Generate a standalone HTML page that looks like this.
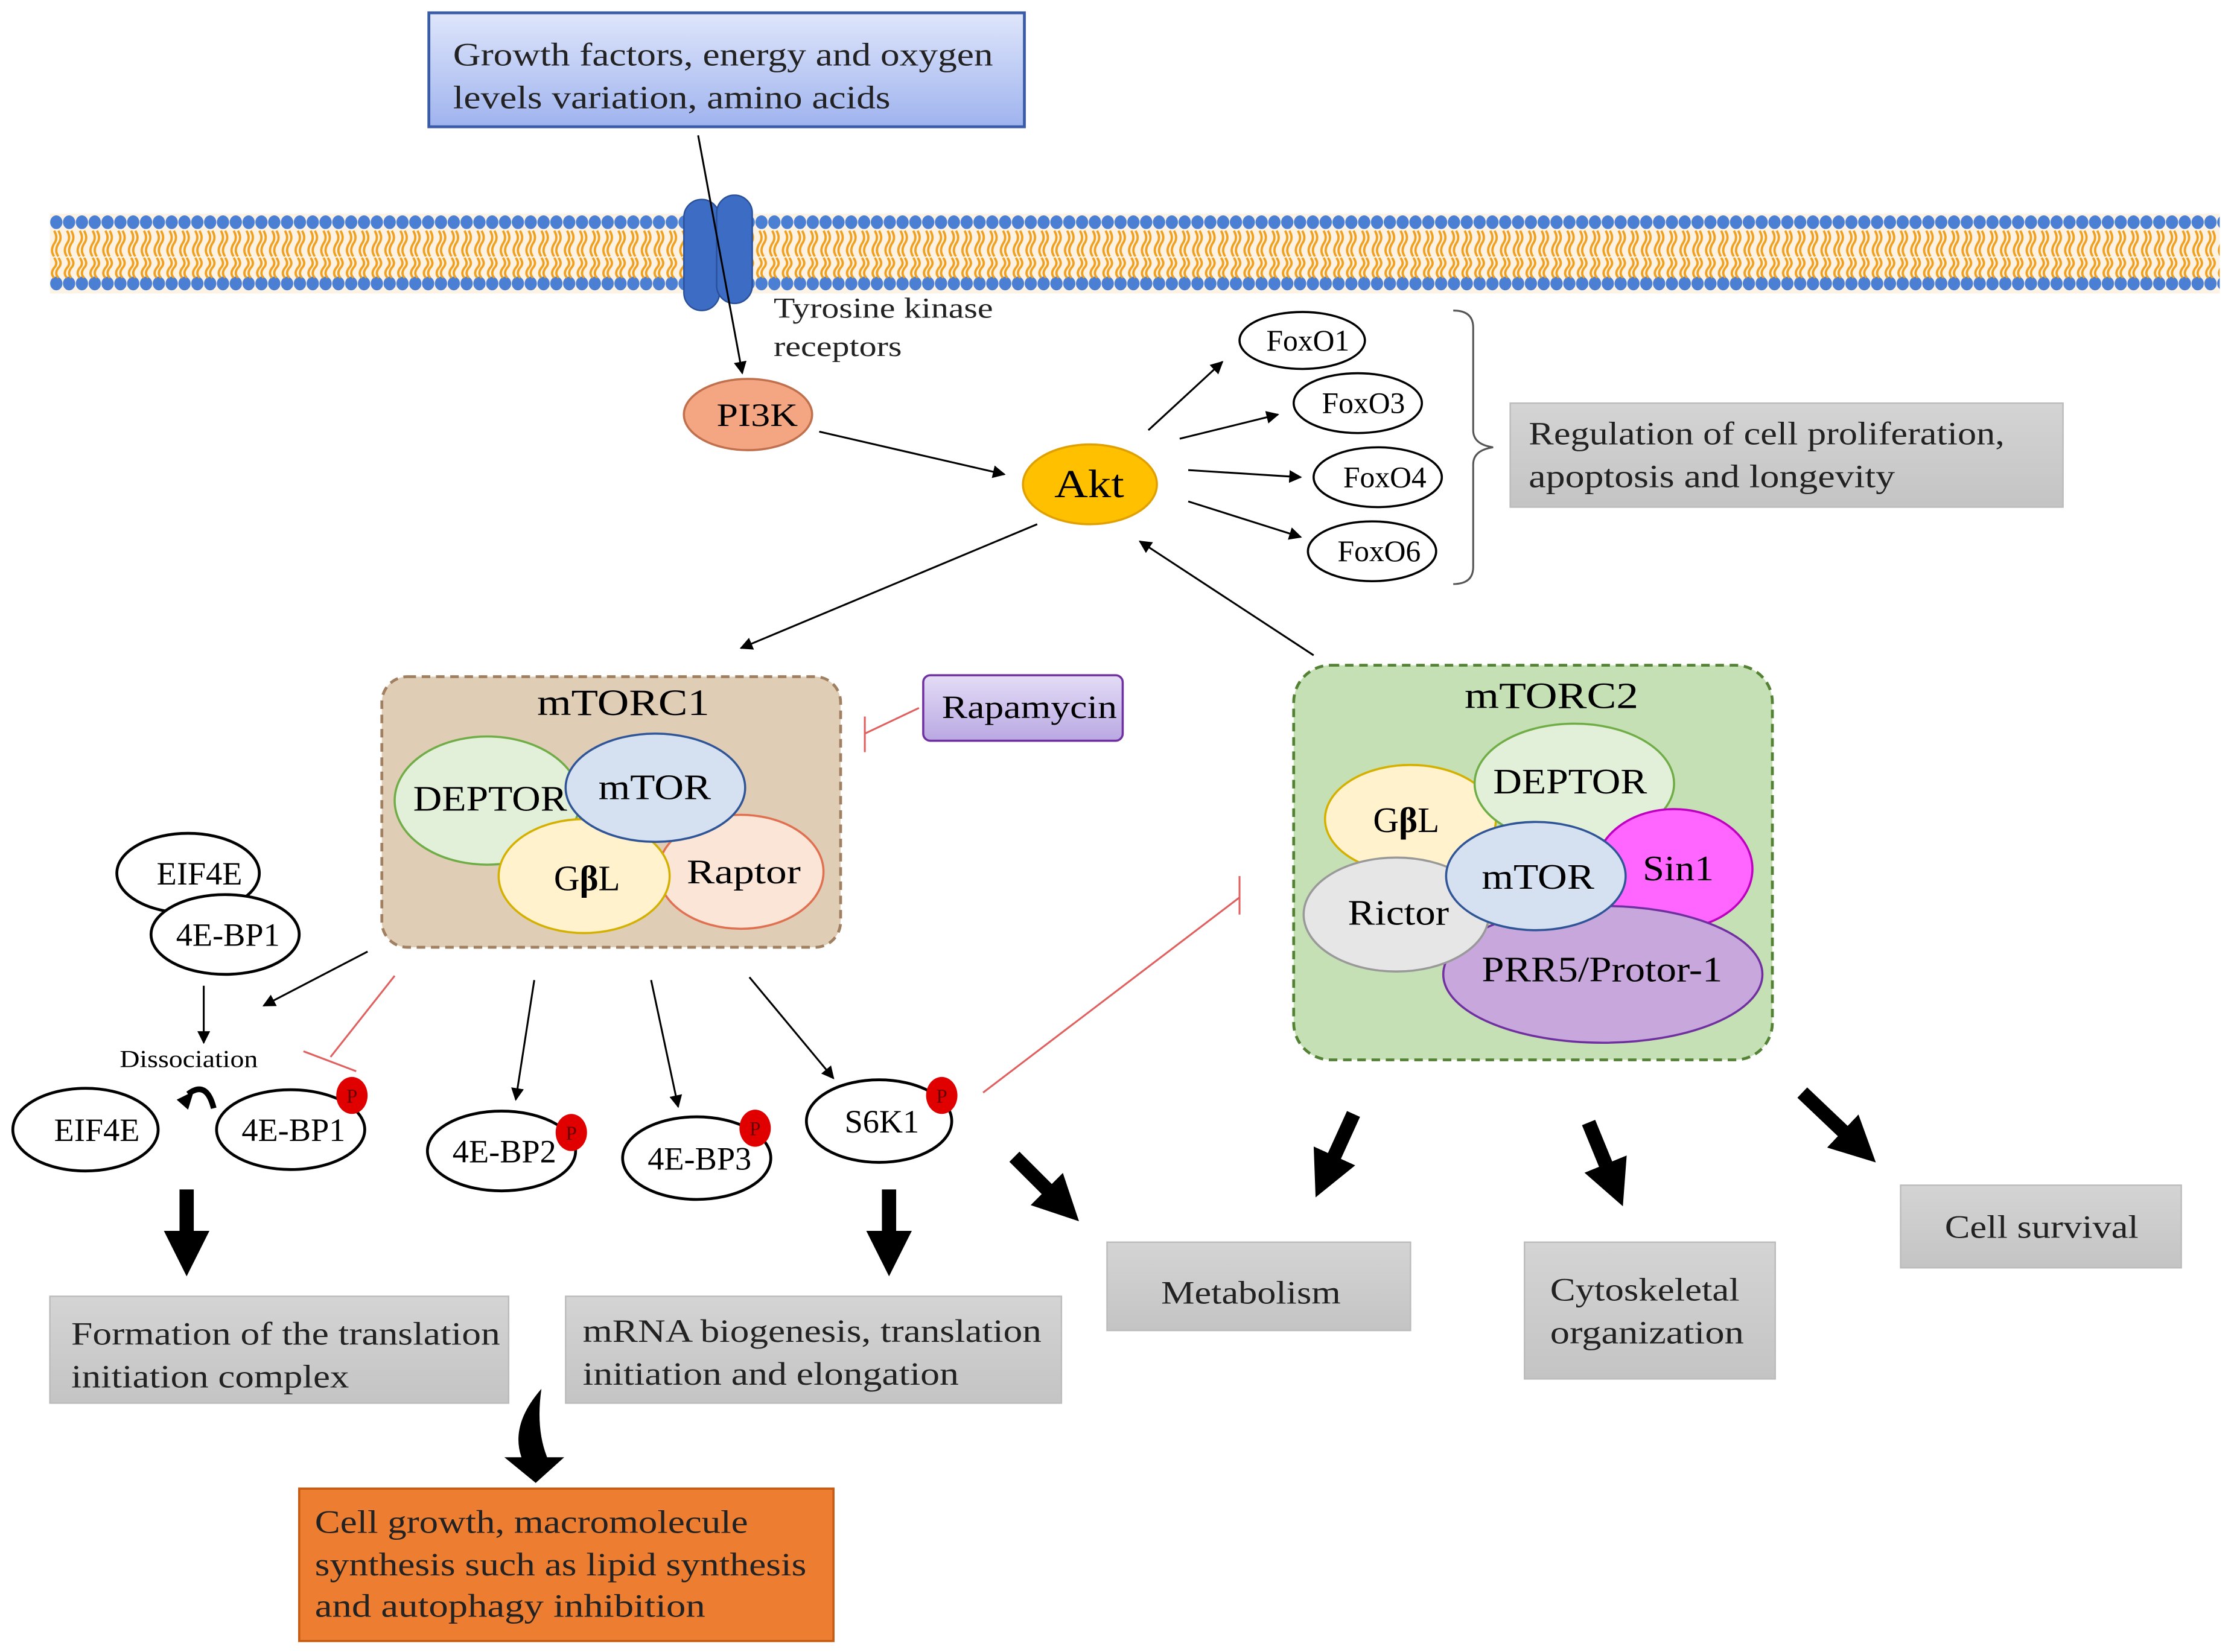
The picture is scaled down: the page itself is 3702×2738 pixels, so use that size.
<!DOCTYPE html>
<html><head><meta charset="utf-8"><style>html,body{margin:0;padding:0;background:#fff}svg{display:block}</style></head><body>
<svg width="3702" height="2738" viewBox="0 0 1568 1159.7" xmlns="http://www.w3.org/2000/svg" font-family="Liberation Serif, serif">
<defs>
<marker id="a" viewBox="0 0 10 10" refX="9" refY="5" markerWidth="9" markerHeight="9" markerUnits="userSpaceOnUse" orient="auto"><path d="M0,0L10,5L0,10z" fill="#000"/></marker>
<marker id="A" viewBox="0 0 10 10" refX="5" refY="5" markerWidth="32" markerHeight="32" markerUnits="userSpaceOnUse" orient="auto"><path d="M0,0L10,5L0,10z" fill="#000"/></marker>
<linearGradient id="bl" x1="0" y1="0" x2="0" y2="1"><stop offset="0" stop-color="#dfe6fb"/><stop offset="1" stop-color="#9fb3ee"/></linearGradient>
<linearGradient id="gr" x1="0" y1="0" x2="0" y2="1"><stop offset="0" stop-color="#d4d4d4"/><stop offset="1" stop-color="#c4c4c4"/></linearGradient>
<linearGradient id="pu" x1="0" y1="0" x2="0" y2="1"><stop offset="0" stop-color="#e4dcf6"/><stop offset="1" stop-color="#b9a8e2"/></linearGradient>
<pattern id="heads" x="35" y="0" width="9" height="1160" patternUnits="userSpaceOnUse">
<ellipse cx="4.5" cy="156" rx="4.3" ry="4.8" fill="#4a7fd4"/>
<ellipse cx="4.5" cy="199" rx="4.3" ry="4.8" fill="#4a7fd4"/>
<path d="M3,162 q3,5 0,9 q-3,5 0,9 M6,162 q3,5 0,9 q-3,5 0,9 M3,181 q3,4 0,7 q-3,4 0,7 M6,181 q3,4 0,7 q-3,4 0,7" stroke="#f0a020" stroke-width="1.6" fill="none"/>
</pattern>
</defs>
<rect width="1568" height="1160" fill="#fff"/>
<rect x="35" y="150" width="1523" height="56" fill="#fdf3e4"/>
<rect x="35" y="150" width="1523" height="56" fill="url(#heads)"/>
<rect x="301" y="9" width="418" height="80" fill="url(#bl)" stroke="#3a5ba8" stroke-width="2"/>
<g font-size="23" fill="#222" lengthAdjust="spacingAndGlyphs">
<text x="318" y="46" textLength="379" lengthAdjust="spacingAndGlyphs">Growth factors, energy and oxygen</text>
<text x="318" y="76" textLength="307" lengthAdjust="spacingAndGlyphs">levels variation, amino acids</text></g>
<rect x="480" y="140" width="25" height="78" rx="12.5" fill="#3d6cc4" stroke="#2a4f99"/>
<rect x="503" y="137" width="25" height="76" rx="12.5" fill="#3d6cc4" stroke="#2a4f99"/>
<line x1="490" y1="95" x2="521" y2="262" stroke="#000" stroke-width="1.3" marker-end="url(#a)"/>
<text x="543" y="223" font-size="20" fill="#222" textLength="154" lengthAdjust="spacingAndGlyphs">Tyrosine kinase</text>
<text x="543" y="250" font-size="20" fill="#222" textLength="90" lengthAdjust="spacingAndGlyphs">receptors</text>
<ellipse cx="525" cy="291" rx="45" ry="25" fill="#f4a582" stroke="#c0704d" stroke-width="1.5"/>
<text x="503" y="299" font-size="23" textLength="57" lengthAdjust="spacingAndGlyphs">PI3K</text>
<line x1="575" y1="303" x2="705" y2="333" stroke="#000" stroke-width="1.3" marker-end="url(#a)"/>
<ellipse cx="765" cy="340" rx="47" ry="28" fill="#ffc000" stroke="#e0a000" stroke-width="1.5"/>
<text x="740" y="349" font-size="28" textLength="49" lengthAdjust="spacingAndGlyphs">Akt</text>
<g fill="#fff" stroke="#000" stroke-width="1.5">
<ellipse cx="914" cy="239" rx="44" ry="20"/><ellipse cx="953" cy="283" rx="45" ry="21"/><ellipse cx="967" cy="335" rx="45" ry="21"/><ellipse cx="963" cy="387" rx="45" ry="21"/></g>
<g font-size="21" text-anchor="middle"><text x="918" y="246">FoxO1</text><text x="957" y="290">FoxO3</text><text x="972" y="342">FoxO4</text><text x="968" y="394">FoxO6</text></g>
<g stroke="#000" stroke-width="1.3" marker-end="url(#a)">
<line x1="806" y1="302" x2="858" y2="254"/><line x1="828" y1="308" x2="897" y2="291"/><line x1="834" y1="330" x2="913" y2="335"/><line x1="834" y1="352" x2="913" y2="377"/>
<line x1="728" y1="368" x2="520" y2="455"/><line x1="922" y1="460" x2="800" y2="380"/>
<line x1="143" y1="692" x2="143" y2="732"/><line x1="258" y1="668" x2="185" y2="706"/>
<line x1="375" y1="688" x2="362" y2="772"/><line x1="457" y1="688" x2="476" y2="777"/><line x1="526" y1="686" x2="585" y2="757"/>
</g>
<path d="M1020,218 q14,0 14,12 v72 q0,10 14,12 q-14,2 -14,12 v72 q0,12 -14,12" fill="none" stroke="#555" stroke-width="1.3"/>
<rect x="1060" y="283" width="388" height="73" fill="url(#gr)" stroke="#bbb"/>
<text x="1073" y="312" font-size="23" fill="#222" textLength="334" lengthAdjust="spacingAndGlyphs">Regulation of cell proliferation,</text>
<text x="1073" y="342" font-size="23" fill="#222" textLength="257" lengthAdjust="spacingAndGlyphs">apoptosis and longevity</text>
<rect x="268" y="475" width="322" height="190" rx="18" fill="#e0cdb6" stroke="#a08060" stroke-width="2" stroke-dasharray="6,4"/>
<text x="377" y="502" font-size="26" textLength="121" lengthAdjust="spacingAndGlyphs">mTORC1</text>
<ellipse cx="342" cy="562" rx="65" ry="45" fill="#e2efd9" stroke="#70ad47" stroke-width="1.5"/>
<ellipse cx="520" cy="612" rx="58" ry="40" fill="#fbe5d6" stroke="#e07050" stroke-width="1.5"/>
<ellipse cx="410" cy="615" rx="60" ry="40" fill="#fff2cc" stroke="#d4b000" stroke-width="1.5"/>
<text x="290" y="569" font-size="25" textLength="108" lengthAdjust="spacingAndGlyphs">DEPTOR</text>
<ellipse cx="460" cy="553" rx="63" ry="38" fill="#d5e0f0" stroke="#2f5597" stroke-width="1.5"/>
<text x="420" y="561" font-size="25" textLength="79" lengthAdjust="spacingAndGlyphs">mTOR</text>
<text x="412" y="625" font-size="25" text-anchor="middle">G<tspan font-weight="bold">β</tspan>L</text>
<text x="482" y="620" font-size="24" textLength="80" lengthAdjust="spacingAndGlyphs">Raptor</text>
<rect x="648" y="474" width="140" height="46" rx="5" fill="url(#pu)" stroke="#7030a0" stroke-width="1.5"/>
<text x="661" y="504" font-size="23" textLength="123" lengthAdjust="spacingAndGlyphs">Rapamycin</text>
<g stroke="#e06060" stroke-width="1.3"><line x1="645" y1="497" x2="607" y2="515"/><line x1="607" y1="503" x2="607" y2="528"/>
<line x1="277" y1="685" x2="232" y2="742"/><line x1="213" y1="738" x2="250" y2="752"/>
<line x1="690" y1="767" x2="870" y2="630"/><line x1="870" y1="615" x2="870" y2="642"/></g>
<rect x="908" y="467" width="336" height="277" rx="26" fill="#c5e0b4" stroke="#548235" stroke-width="2" stroke-dasharray="6,4"/>
<text x="1028" y="497" font-size="26" textLength="122" lengthAdjust="spacingAndGlyphs">mTORC2</text>
<ellipse cx="990" cy="575" rx="60" ry="38" fill="#fff2cc" stroke="#d4b000" stroke-width="1.5"/>
<ellipse cx="1105" cy="550" rx="70" ry="42" fill="#e2efd9" stroke="#70ad47" stroke-width="1.5"/>
<ellipse cx="1175" cy="610" rx="55" ry="42" fill="#ff66ff" stroke="#c000c0" stroke-width="1.5"/>
<ellipse cx="1125" cy="684" rx="112" ry="48" fill="#c8a8dc" stroke="#7030a0" stroke-width="1.5"/>
<ellipse cx="980" cy="642" rx="65" ry="40" fill="#e7e6e6" stroke="#999" stroke-width="1.5"/>
<ellipse cx="1078" cy="615" rx="63" ry="38" fill="#d5e0f0" stroke="#2f5597" stroke-width="1.5"/>
<g font-size="25"><text x="987" y="584" text-anchor="middle">G<tspan font-weight="bold">β</tspan>L</text>
<text x="1048" y="557" textLength="108" lengthAdjust="spacingAndGlyphs">DEPTOR</text>
<text x="1153" y="618" textLength="50" lengthAdjust="spacingAndGlyphs">Sin1</text>
<text x="1040" y="689" textLength="169" lengthAdjust="spacingAndGlyphs">PRR5/Protor-1</text>
<text x="946" y="649" textLength="71" lengthAdjust="spacingAndGlyphs">Rictor</text>
<text x="1040" y="624" textLength="79" lengthAdjust="spacingAndGlyphs">mTOR</text></g>
<g fill="#fff" stroke="#000" stroke-width="2">
<ellipse cx="132" cy="613" rx="50" ry="28"/><ellipse cx="158" cy="656" rx="52" ry="28"/>
<ellipse cx="60" cy="793" rx="51" ry="29"/><ellipse cx="204" cy="793" rx="52" ry="28"/>
<ellipse cx="352" cy="808" rx="52" ry="28"/><ellipse cx="489" cy="813" rx="52" ry="29"/><ellipse cx="617" cy="787" rx="51" ry="29"/></g>
<g font-size="23" text-anchor="middle"><text x="140" y="621">EIF4E</text><text x="160" y="664">4E-BP1</text><text x="68" y="801">EIF4E</text><text x="206" y="801">4E-BP1</text><text x="354" y="816">4E-BP2</text><text x="491" y="821">4E-BP3</text><text x="619" y="795">S6K1</text></g>
<g fill="#e00000"><ellipse cx="247" cy="769" rx="11" ry="13"/><ellipse cx="401" cy="795" rx="11" ry="13"/><ellipse cx="530" cy="792" rx="11" ry="13"/><ellipse cx="661" cy="769" rx="11" ry="13"/></g>
<g font-size="14" text-anchor="middle" fill="#600"><text x="247" y="774">P</text><text x="401" y="800">P</text><text x="530" y="797">P</text><text x="661" y="774">P</text></g>
<text x="84" y="749" font-size="17" textLength="97" lengthAdjust="spacingAndGlyphs">Dissociation</text>
<path d="M150,778 q-5,-20 -18,-10" fill="none" stroke="#000" stroke-width="4"/><path d="M124,772 l12,-6 l-4,13z" fill="#000"/>
<g stroke="#000" stroke-width="10" marker-end="url(#A)">
<line x1="131" y1="835" x2="131" y2="880"/><line x1="624" y1="835" x2="624" y2="880"/>
<line x1="712" y1="812" x2="746" y2="846"/><line x1="950" y1="782" x2="930" y2="826"/>
<line x1="1115" y1="788" x2="1133" y2="832"/><line x1="1265" y1="767" x2="1305" y2="805"/></g>
<path d="M380,975 q-22,25 -14,48 l-12,0 l22,18 l20,-18 l-12,0 q-8,-20 -4,-48z" fill="#000"/>
<g fill="url(#gr)" stroke="#bbb"><rect x="35" y="910" width="322" height="75"/><rect x="397" y="910" width="348" height="75"/><rect x="777" y="872" width="213" height="62"/><rect x="1070" y="872" width="176" height="96"/><rect x="1334" y="832" width="197" height="58"/></g>
<g font-size="23" fill="#222">
<text x="50" y="944" textLength="301" lengthAdjust="spacingAndGlyphs">Formation of the translation</text>
<text x="50" y="974" textLength="195" lengthAdjust="spacingAndGlyphs">initiation complex</text>
<text x="409" y="942" textLength="322" lengthAdjust="spacingAndGlyphs">mRNA biogenesis, translation</text>
<text x="409" y="972" textLength="264" lengthAdjust="spacingAndGlyphs">initiation and elongation</text>
<text x="815" y="915" textLength="126" lengthAdjust="spacingAndGlyphs">Metabolism</text>
<text x="1088" y="913" textLength="133" lengthAdjust="spacingAndGlyphs">Cytoskeletal</text>
<text x="1088" y="943" textLength="136" lengthAdjust="spacingAndGlyphs">organization</text>
<text x="1365" y="869" textLength="136" lengthAdjust="spacingAndGlyphs">Cell survival</text></g>
<rect x="210" y="1045" width="375" height="107" fill="#ed7d31" stroke="#c55a11" stroke-width="1.5"/>
<g font-size="23" fill="#222">
<text x="221" y="1076" textLength="304" lengthAdjust="spacingAndGlyphs">Cell growth, macromolecule</text>
<text x="221" y="1106" textLength="345" lengthAdjust="spacingAndGlyphs">synthesis such as lipid synthesis</text>
<text x="221" y="1135" textLength="274" lengthAdjust="spacingAndGlyphs">and autophagy inhibition</text></g>
</svg>
</body></html>
